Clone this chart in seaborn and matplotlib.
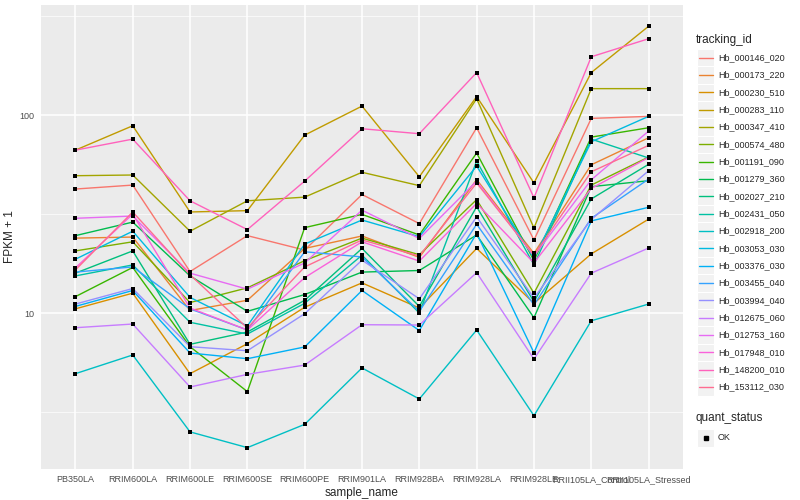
import numpy as np
import pandas as pd
import matplotlib
matplotlib.use("Agg")
import matplotlib.pyplot as plt
import matplotlib.ticker as mticker
from matplotlib.patches import Rectangle
from matplotlib.lines import Line2D
import seaborn as sns

# sample order on the x axis
samples = ["PB350LA", "RRIM600LA", "RRIM600LE", "RRIM600SE", "RRIM600PE",
           "RRIM901LA", "RRIM928BA", "RRIM928LA", "RRIM928LE",
           "RRII105LA_Control", "RRII105LA_Stressed"]

tracking_ids = ["Hb_000146_020", "Hb_000173_220", "Hb_000230_510", "Hb_000283_110",
                "Hb_000347_410", "Hb_000574_480", "Hb_001191_090", "Hb_001279_360",
                "Hb_002027_210", "Hb_002431_050", "Hb_002918_200", "Hb_003053_030",
                "Hb_003376_030", "Hb_003455_040", "Hb_003994_040", "Hb_012675_060",
                "Hb_012753_160", "Hb_017948_010", "Hb_148200_010", "Hb_153112_030"]

# ggplot default hue palette for 20 levels
hue_colors = ["#F8766D", "#EA8331", "#D89000", "#C09B00", "#A3A500", "#7CAE00",
              "#39B600", "#00BB4E", "#00BF7D", "#00C1A3", "#00BFC4", "#00BAE0",
              "#00B0F6", "#35A2FF", "#9590FF", "#C77CFF", "#E76BF3", "#FA62DB",
              "#FF62BC", "#FF6C91"]

# FPKM + 1 per sample
hb_000146_020 = [42.3, 44.3, 16.2, 24.6, 20.8, 39.7, 28.3, 86.3, 23.4, 96.2, 98.5]
hb_000173_220 = [23.9, 24.2, 10.3, 11.6, 21.2, 24.5, 19.1, 47.2, 20.0, 56.1, 76.8]
hb_000230_510 = [10.5, 12.6, 4.94, 7.00, 10.7, 14.2, 10.6, 21.2, 11.2, 19.9, 29.8]
hb_000283_110 = [66.5, 88.3, 32.4, 32.9, 79.2, 111, 48.8, 124, 45.4, 164, 281]
hb_000347_410 = [49.4, 49.8, 25.9, 36.9, 38.5, 51.4, 44.0, 121, 26.9, 136, 136]
hb_000574_480 = [20.6, 22.9, 11.3, 13.4, 18.4, 23.9, 19.7, 37.4, 12.6, 44.3, 61.4]
hb_001191_090 = [12.1, 17.0, 6.76, 4.01, 27.0, 31.5, 24.8, 64.3, 18.4, 77.4, 86.3]
hb_001279_360 = [24.6, 28.8, 15.4, 10.2, 12.4, 16.1, 16.4, 24.8, 9.47, 43.5, 46.6]
hb_002027_210 = [15.9, 20.6, 6.95, 8.02, 11.6, 21.2, 10.8, 34.4, 11.4, 37.7, 56.4]
hb_002431_050 = [15.4, 17.5, 8.98, 7.83, 11.2, 19.6, 10.0, 58.6, 17.5, 75.6, 60.7]
hb_002918_200 = [4.94, 6.14, 2.51, 2.09, 2.74, 5.28, 3.68, 8.21, 3.03, 9.14, 11.1]
hb_003053_030 = [18.7, 25.9, 12.0, 8.60, 22.3, 29.5, 24.3, 55.3, 18.9, 73.3, 98.5]
hb_003376_030 = [10.8, 13.0, 6.28, 5.88, 6.74, 13.0, 8.16, 25.3, 6.30, 29.2, 34.2]
hb_003455_040 = [16.1, 17.1, 10.5, 8.21, 20.4, 19.2, 10.2, 28.1, 11.0, 30.1, 47.5]
hb_003994_040 = [11.1, 13.3, 6.76, 6.45, 9.92, 18.5, 11.8, 30.6, 11.9, 29.7, 52.3]
hb_012675_060 = [8.43, 8.80, 4.23, 4.90, 5.46, 8.73, 8.70, 16.0, 5.86, 15.9, 21.3]
hb_012753_160 = [30.1, 30.9, 15.9, 13.2, 17.9, 33.1, 23.8, 46.4, 19.4, 47.1, 83.0]
hb_017948_010 = [16.9, 31.6, 10.6, 8.21, 15.1, 22.9, 18.3, 35.8, 17.9, 42.6, 61.0]
hb_148200_010 = [66.5, 75.6, 36.9, 26.4, 46.4, 85.3, 80.5, 164, 38.2, 197, 243]
hb_153112_030 = [16.5, 32.4, 15.6, 8.40, 17.1, 23.4, 19.4, 45.4, 19.6, 51.7, 70.3]

series = [hb_000146_020, hb_000173_220, hb_000230_510, hb_000283_110, hb_000347_410,
          hb_000574_480, hb_001191_090, hb_001279_360, hb_002027_210, hb_002431_050,
          hb_002918_200, hb_003053_030, hb_003376_030, hb_003455_040, hb_003994_040,
          hb_012675_060, hb_012753_160, hb_017948_010, hb_148200_010, hb_153112_030]

rows = []
for tid, vals in zip(tracking_ids, series):
    for s, v in zip(samples, vals):
        rows.append({"tracking_id": tid, "sample_name": s, "fpkm": v, "quant_status": "OK"})
df = pd.DataFrame(rows)
df["xpos"] = df["sample_name"].map({s: i for i, s in enumerate(samples)})

sns.set_style("white")
plt.rcParams['font.family'] = ['Liberation Sans', 'DejaVu Sans']

fig = plt.figure(figsize=(8, 5), dpi=100)
ax = fig.add_axes([41 / 800, 1 - 468.7 / 500, (683 - 41) / 800, (468.7 - 5.1) / 500])
ax.set_facecolor("#EBEBEB")

sns.lineplot(data=df, x="xpos", y="fpkm", hue="tracking_id", hue_order=tracking_ids,
             palette=hue_colors, estimator=None, sort=False, linewidth=1.0,
             legend=False, ax=ax, zorder=2)
sns.scatterplot(data=df, x="xpos", y="fpkm", color="black", s=10, marker="s",
                linewidth=0, legend=False, ax=ax, zorder=3)

ax.set_yscale("log")
ax.set_ylim(10 ** 0.2137, 10 ** 2.5555)
ax.set_xlim(-0.6, len(samples) - 0.4)
ax.yaxis.set_major_locator(mticker.FixedLocator([10, 100]))
ax.yaxis.set_major_formatter(mticker.FixedFormatter(["10", "100"]))
ax.yaxis.set_minor_locator(mticker.FixedLocator([10 ** 0.5, 10 ** 1.5, 10 ** 2.5]))
ax.yaxis.set_minor_formatter(mticker.NullFormatter())
ax.set_xticks(range(len(samples)))
ax.set_xticklabels(samples)

ax.grid(which="major", color="white", linewidth=1.1)
ax.grid(which="minor", axis="y", color="white", linewidth=0.5)
ax.set_axisbelow(True)
for sp in ax.spines.values():
    sp.set_visible(False)
ax.tick_params(which="major", length=2.5, width=0.6, color="#333333",
               labelsize=6.5, labelcolor="#4D4D4D", pad=2)
ax.tick_params(which="minor", length=0)

ax.set_xlabel("sample_name", fontsize=8.5, labelpad=2)
ax.set_ylabel("FPKM + 1", fontsize=8.5, labelpad=3)

# ggplot style legends drawn on a figure-wide overlay in pixel units
lg = fig.add_axes([0, 0, 1, 1], zorder=5)
lg.set_xlim(0, 800)
lg.set_ylim(500, 0)
lg.axis("off")

lg.text(696, 40, "tracking_id", fontsize=8.5, va="center", ha="left")
for i, (tid, col) in enumerate(zip(tracking_ids, hue_colors)):
    yc = 57.7 + 17.33 * i
    lg.add_patch(Rectangle((697, yc - 8.6), 17, 17.2, facecolor="#F2F2F2",
                           edgecolor="white", linewidth=0.8))
    lg.add_line(Line2D([698.5, 712.5], [yc, yc], color=col, linewidth=1.0))
    lg.text(718, yc, tid, fontsize=6.5, va="center", ha="left")

lg.text(696, 418, "quant_status", fontsize=8.5, va="center", ha="left")
lg.add_patch(Rectangle((697, 438 - 8.6), 17, 17.2, facecolor="#F2F2F2",
                       edgecolor="white", linewidth=0.8))
lg.plot([705.5], [438], marker="s", markersize=3.2, color="black")
lg.text(718, 438, "OK", fontsize=6.5, va="center", ha="left")

fig.savefig("out.png", dpi=100)
plt.close(fig)
